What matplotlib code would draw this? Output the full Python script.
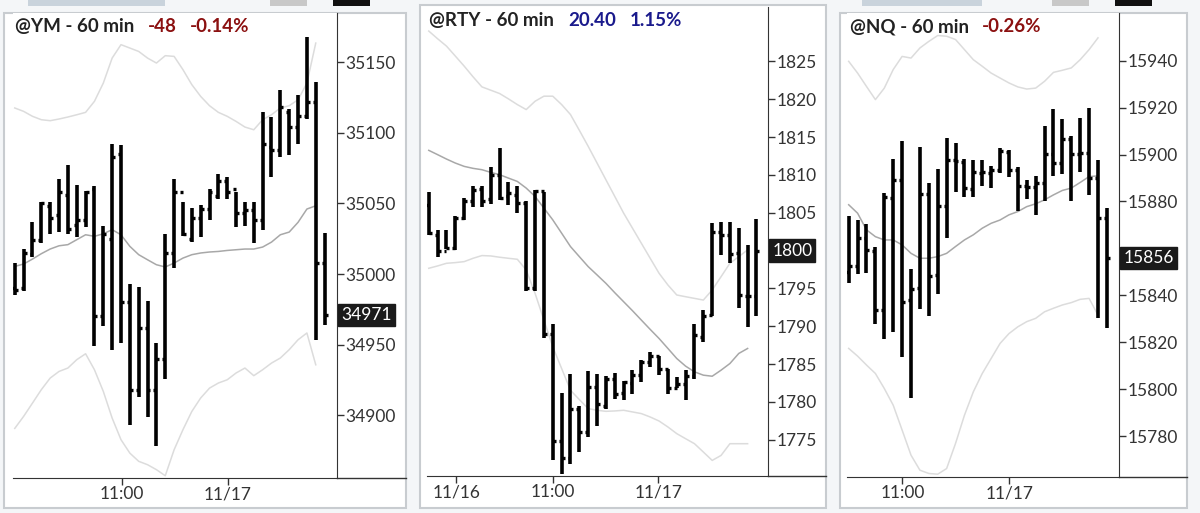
import matplotlib
matplotlib.use("Agg")
import matplotlib.pyplot as plt
from matplotlib.patches import Rectangle
from matplotlib.lines import Line2D

# ---------------- data ----------------
ym_open  = [34990,34990,35014,35024,35048,35042,35056,35035,35038,35060,34970,35025,35085,34980,34918,34962,34918,34940,35015,35058,35025,35040,35046,35055,35066,35060,35043,35045,35038,35090,35088,35115,35104,35112,35122,35008]
ym_high  = [35008,35018,35037,35051,35051,35067,35077,35063,35059,35062,35034,35092,35091,34993,34991,34981,34951,35028,35067,35051,35047,35049,35060,35071,35069,35058,35051,35051,35115,35111,35130,35117,35127,35168,35136,35029]
ym_low   = [34985,34988,35012,35022,35028,35030,35028,35026,35033,34949,34963,34946,34951,34893,34913,34899,34878,34926,35004,35027,35023,35026,35038,35053,35053,35033,35034,35022,35031,35069,35083,35084,35092,35110,34953,34964]
ym_close = [34989,35015,35024,35050,35040,35058,35032,35038,35058,34970,35028,35083,34980,34918,34962,34918,34940,35015,35058,35028,35040,35046,35058,35066,35058,35043,35045,35038,35092,35088,35118,35104,35112,35122,35008,34971]
ym_mid   = [35005.4,35007.1,35010.6,35014.4,35017.7,35020.0,35020.8,35024.3,35027.8,35026.7,35028.5,35031.4,35027.8,35019.6,35013.7,35010.1,35006.6,35005.0,35007.8,35011.3,35013.7,35014.9,35015.6,35016.0,35016.7,35017.2,35017.7,35017.7,35019.1,35022.6,35027.8,35029.7,35036.6,35046.0,35048.3]
ym_up    = [35117.5,35115.1,35111.6,35109.2,35108.5,35109.7,35111.1,35112.7,35114.4,35122.2,35135.1,35152.8,35162.3,35159.9,35157.5,35152.8,35149.3,35154.5,35154.0,35144.6,35134.0,35125.7,35119.1,35114.4,35111.6,35108.0,35104.0,35102.1,35109.2,35112.7,35117.5,35119.1,35123.3,35135.1,35163.4]
ym_lo    = [34890.8,34899.3,34908.7,34918.2,34926.4,34931.1,34933.5,34939.4,34943.6,34932.3,34917.0,34898.1,34882.8,34873.3,34867.5,34865.1,34861.6,34857.3,34875.7,34889.9,34902.8,34912.3,34919.3,34922.9,34925.2,34930.0,34933.5,34928.1,34932.3,34937.0,34940.6,34946.5,34953.5,34958.3,34935.8]

rty_open  = [1806,1802,1800,1800.3,1804.3,1806.6,1808.2,1806.8,1810,1807.2,1807.4,1806.3,1795,1807.9,1789,1774.8,1772.6,1779,1776,1782,1779.5,1783,1781.2,1782.5,1783.5,1785.3,1786,1784.3,1781.8,1782.4,1783.4,1788.6,1791.5,1802.5,1802,1799.7,1794,1794]
rty_high  = [1807.8,1802.7,1802.7,1804.6,1806.9,1808.5,1808.5,1811,1813.6,1809,1808.5,1806.5,1808,1807.8,1790.3,1781.2,1783.7,1779.5,1784.1,1783.7,1783.4,1783.8,1782.7,1784.2,1785.5,1786.6,1786,1784.4,1783.3,1784.2,1790.3,1792.2,1803.7,1803.8,1803.8,1803,1800.8,1804.2]
rty_low   = [1802,1799.1,1800.2,1800.1,1804.1,1805.8,1805.8,1806.2,1806.7,1806,1805,1794.6,1794.6,1788.4,1772.3,1770.5,1771.8,1773.4,1775.4,1776.8,1779,1780.4,1780.3,1781.1,1782.6,1784.6,1783.5,1781,1781.8,1780.2,1783,1787.9,1791.3,1799.4,1798.3,1792.4,1789.9,1791.3]
rty_close = [1802.3,1800,1800.3,1804.3,1806.6,1808,1806.6,1810,1807,1807.6,1806.3,1795,1807.9,1789,1774.8,1772.6,1779,1776,1782,1779.7,1783,1781.1,1782.6,1783.5,1785.3,1786,1784.4,1781.8,1782.3,1783.4,1788.8,1791.4,1802.5,1802,1799.6,1794.1,1794,1800]
rty_mid   = [1813.25,1812.68,1812.1,1811.57,1811.13,1810.87,1810.69,1810.34,1810.03,1809.58,1809.14,1808.26,1807.16,1805.61,1804.06,1802.3,1800.53,1799.2,1797.88,1796.78,1795.67,1794.43,1793.24,1792.05,1790.81,1789.58,1788.38,1787.06,1785.73,1784.72,1783.97,1783.53,1783.39,1784.19,1785.07,1786.4,1787.06]
rty_up    = [1829.02,1828.0,1827.03,1825.71,1824.38,1822.97,1821.64,1821.2,1820.76,1820.05,1819.3,1818.64,1819.74,1820.41,1820.41,1819.3,1817.98,1815.9,1813.78,1811.57,1809.36,1807.16,1804.95,1802.96,1800.97,1798.98,1797.0,1795.45,1794.13,1793.9,1793.68,1793.46,1794.79,1796.55,1798.32,1799.2,1800.09]
rty_lo    = [1797.66,1797.97,1798.32,1798.41,1798.54,1798.98,1799.34,1799.29,1799.12,1798.98,1798.85,1797.44,1794.35,1790.81,1787.28,1784.41,1781.54,1780.3,1779.11,1778.89,1778.75,1778.8,1778.89,1778.67,1778.45,1778.0,1777.47,1776.68,1775.8,1775.13,1774.47,1773.37,1772.26,1772.92,1774.47,1774.47,1774.47]

nq_open  = [15850,15852.5,15864.3,15859,15833.8,15881.5,15889.2,15838,15843,15883,15848.5,15878,15897.8,15897,15885.5,15892,15892,15893.5,15901,15893.5,15886.7,15886,15887.8,15900.3,15896.6,15906.6,15900.3,15900.8,15890,15873]
nq_high  = [15873.6,15871.9,15870.3,15860.5,15883.8,15898.2,15905.6,15851.1,15903.4,15887.8,15893.8,15907,15904.9,15898.2,15897.8,15897.8,15895.3,15902.7,15902,15894.5,15889.2,15890.9,15912.3,15919.4,15915.1,15908,15915.5,15919.8,15897.5,15877.1]
nq_low   = [15845.4,15849.1,15849.7,15827.8,15821.2,15824.5,15813.6,15796.1,15834,15831.2,15840.6,15864.3,15884.2,15882.1,15882.1,15886.4,15885.7,15892.1,15890.6,15876.1,15881,15874.3,15880,15890.9,15891.8,15880,15892.4,15882.8,15830.2,15825.9]
nq_close = [15852.5,15864.3,15859.4,15833.8,15881.7,15889.2,15837.3,15842.8,15883.3,15848.3,15878.1,15897.8,15897.2,15885.7,15892.4,15892.4,15893.5,15901.3,15893.5,15886.7,15886.3,15887.8,15900.3,15896.6,15906.6,15900.3,15900.8,15889.9,15872.9,15856]
nq_mid   = [15878.6,15875.0,15867.9,15865.0,15863.6,15863.6,15861.5,15857.9,15855.8,15855.8,15856.5,15857.9,15860.8,15863.6,15865.8,15868.6,15870.7,15872.1,15874.3,15875.7,15877.8,15879.0,15880.7,15882.8,15884.7,15885.7,15888.1,15890.6,15890.9]
nq_up    = [15939.7,15934.7,15929.0,15923.4,15928.3,15936.2,15941.8,15941.1,15945.4,15948.2,15950.7,15950.4,15949.0,15944.7,15940.4,15937.6,15934.7,15932.6,15930.5,15928.8,15927.9,15928.3,15931.2,15935.0,15935.9,15936.9,15940.4,15944.7,15949.7]
nq_lo    = [15817.4,15814.1,15810.3,15806.7,15800.3,15793.2,15782.6,15771.9,15765.5,15764.1,15763.8,15766.2,15776.9,15788.9,15798.9,15806.7,15813.1,15819.5,15823.7,15826.6,15828.8,15830.2,15833.0,15834.5,15835.9,15836.9,15838.3,15838.7,15831.6]

ym_ticks  = [34900,34950,35000,35050,35100,35150]
rty_ticks = [1775,1780,1785,1790,1795,1800,1805,1810,1815,1820,1825]
nq_ticks  = [15780,15800,15820,15840,15860,15880,15900,15920,15940]

ym_xt,  ym_xl  = [12.1, 24.1], ["11:00", "11/17"]
rty_xt, rty_xl = [3.1, 14.0, 25.9], ["11/16", "11:00", "11/17"]
nq_xt,  nq_xl  = [6.04, 18.05], ["11:00", "11/17"]

# ---------------- drawing ----------------
W, H = 1200, 513
fig = plt.figure(figsize=(W/100, H/100), dpi=100)
fig.patch.set_facecolor("#f4f6f8")
FONT = "Lato"
DARK = "#222222"
RED = "#8b1010"
BLUE = "#1a1a8c"

def px_rect(l, t, r, b):
    return [l/W, 1-b/H, (r-l)/W, (b-t)/H]

def panel(frame, axbox, o, h, l, c, mid, up, lo, ylim, xlim, yt, xt, xl, last, titles, hide_label=None):
    fl, ft, fr, fb = frame
    fig.add_artist(Rectangle((fl/W, 1-fb/H), (fr-fl)/W, (fb-ft)/H, transform=fig.transFigure,
                             facecolor="white", edgecolor="#c8ccd0", lw=1.5, zorder=0))
    ax = fig.add_axes(px_rect(*axbox))
    n = len(o)
    xs = list(range(n))
    xb = list(range(len(mid)))
    ax.plot(xb, up, color="#dcdcdc", lw=1.1, zorder=1)
    ax.plot(xb, lo, color="#dcdcdc", lw=1.1, zorder=1)
    ax.plot(xb, mid, color="#a8a8a8", lw=1.1, zorder=1)
    ax.vlines(xs, l, h, color="black", lw=2.6, zorder=3)
    ax.hlines(o, [x-0.33 for x in xs], xs, color="black", lw=2.4, zorder=3)
    ax.hlines(c, xs, [x+0.33 for x in xs], color="black", lw=2.4, zorder=3)
    ax.set_ylim(*ylim)
    ax.set_xlim(*xlim)
    ax.yaxis.tick_right()
    ax.set_yticks(yt)
    ax.set_yticklabels(["" if v == hide_label else str(v) for v in yt])
    ax.set_xticks(xt)
    ax.set_xticklabels(xl)
    ax.tick_params(axis="both", labelsize=12.5, colors="#333333", length=5, width=1, pad=1)
    for lab in ax.get_xticklabels() + ax.get_yticklabels():
        lab.set_fontfamily(FONT)
    for s in ["top", "left"]:
        ax.spines[s].set_visible(False)
    ax.spines["right"].set_color("#333333")
    ax.spines["bottom"].set_color("#333333")
    b = axbox[3]
    fig.add_artist(Line2D([axbox[2]/W, fr/W], [1-b/H, 1-b/H], color="#333333", lw=1, transform=fig.transFigure))
    ax.annotate("{:.0f}".format(last), xy=(1.0, last), xycoords=("axes fraction", "data"),
                xytext=(3, 0), textcoords="offset points", va="center", ha="left",
                fontsize=12.5, fontfamily=FONT, color="white",
                bbox=dict(boxstyle="square,pad=0.18", fc="#1a1a1a", ec="#1a1a1a"), zorder=10,
                annotation_clip=False)
    for (x, y, txt, col) in titles:
        fig.text(x/W, 1-y/H, txt, color=col, fontsize=13.5, fontweight="bold",
                 fontfamily=FONT, va="center", ha="left")
    return ax

panel((4, 13, 406, 508), (13, 13, 337, 478), ym_open, ym_high, ym_low, ym_close,
      ym_mid, ym_up, ym_lo, (34855.7, 35184.7), (-0.2, 36.4), ym_ticks, ym_xt, ym_xl,
      ym_close[-1],
      [(15, 27, "@YM - 60 min", DARK), (148, 27, "-48", RED), (190, 27, "-0.14%", RED)])

panel((420, 5, 826, 508), (427, 7, 768, 476), rty_open, rty_high, rty_low, rty_close,
      rty_mid, rty_up, rty_lo, (1770.2, 1832.2), (-0.2, 38.3), rty_ticks, rty_xt, rty_xl,
      1800,
      [(429, 21, "@RTY - 60 min", DARK), (568, 21, "20.40", BLUE), (630, 21, "1.15%", BLUE)],
      hide_label=1800)

panel((840, 13, 1187, 508), (847, 13, 1119, 477), nq_open, nq_high, nq_low, nq_close,
      nq_mid, nq_up, nq_lo, (15762.6, 15960.3), (-0.19, 30.36), nq_ticks, nq_xt, nq_xl,
      nq_close[-1],
      [(850, 27, "@NQ - 60 min", DARK), (982, 27, "-0.26%", RED)],
      hide_label=15860)

for (l, r, col) in [(28, 165, "#c9d3dc"), (270, 307, "#c8c8c8"), (333, 370, "#111111"),
                    (862, 982, "#c9d3dc"), (1052, 1089, "#c8c8c8"), (1115, 1152, "#111111")]:
    fig.add_artist(Rectangle((l/W, 1-6/H), (r-l)/W, 6/H, transform=fig.transFigure,
                             facecolor=col, edgecolor="none"))

fig.savefig("out.png", dpi=100, facecolor=fig.get_facecolor())
